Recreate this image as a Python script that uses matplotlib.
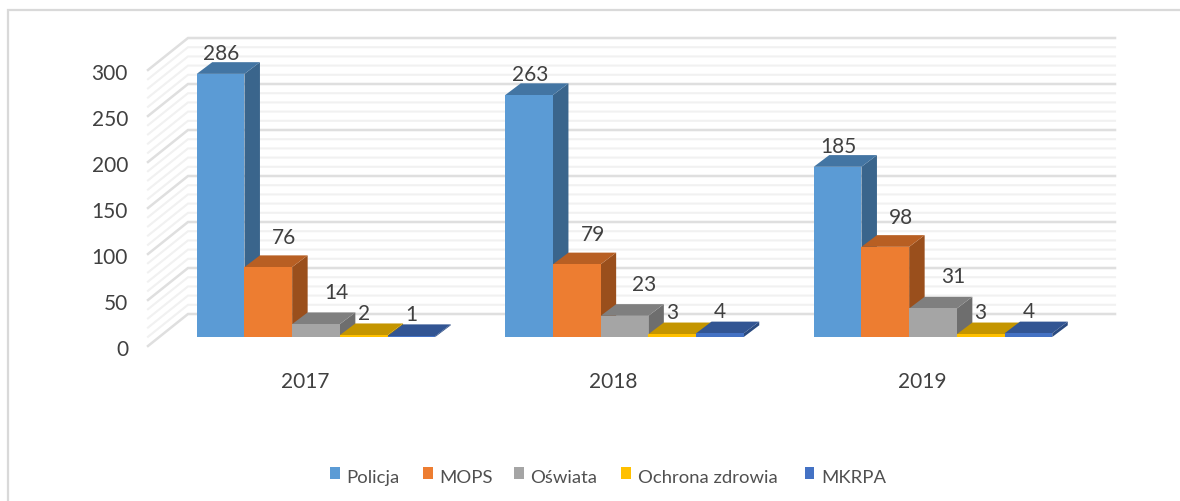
import matplotlib
matplotlib.use("Agg")
import matplotlib.pyplot as plt
from matplotlib.patches import Polygon, Rectangle

years = ["2017", "2018", "2019"]
series = ["Policja", "MOPS", "Oświata", "Ochrona zdrowia", "MKRPA"]
policja = [286, 263, 185]
mops = [76, 79, 98]
oswiata = [14, 23, 31]
ochrona = [2, 3, 3]
mkrpa = [1, 4, 4]
yticks = [0, 50, 100, 150, 200, 250, 300]

front = ["#5B9BD5", "#ED7D31", "#A5A5A5", "#FFC000", "#4472C4"]
top = ["#4375A3", "#B85F23", "#7F7F7F", "#C49500", "#325593"]
side = ["#3A658C", "#9A4F1C", "#6E6E6E", "#A67F00", "#2A4A80"]

plt.rcParams["font.family"] = ["Lato", "DejaVu Sans"]

fig = plt.figure(figsize=(11.8, 5.02), dpi=100)
ax = fig.add_axes([0, 0, 1, 1])

# one group = 308.5 px, one unit of value = 0.92 px
PX_X = 308.5
PX_Y = 0.92
BASE = 338
ax.set_xlim(-316 / PX_X, (1180 - 316) / PX_X)
ax.set_ylim(-(502 - BASE) / PX_Y, BASE / PX_Y)
ax.axis("off")


def dx(px):
    return px / PX_X


def dy(px):
    return px / PX_Y


# chart border: only top and left are in the crop
ax.plot([dx(8 - 316), dx(8 - 316), dx(1180 - 316)],
        [dy(BASE - 502), dy(BASE - 11), dy(BASE - 11)],
        color="#d9d9d9", lw=1.6, solid_joinstyle="miter", zorder=1)

# back wall and side wall lines
wall_x0, wall_x1, wall_x2 = dx(148 - 316), dx(188 - 316), dx(1115 - 316)
base0, base1 = dy(BASE - 347), dy(BASE - 315)
for v in range(0, 301, 10):
    major = v % 50 == 0
    col = "#dfdfdf" if major else "#f1f1f1"
    lw = 1.8 if major else 1.5
    ax.plot([wall_x0, wall_x1, wall_x2], [base0 + v, base1 + v, base1 + v],
            color=col, lw=lw, zorder=1, solid_joinstyle="miter")

for v in yticks:
    ax.text(dx(128 - 316), base0 + v - dy(3), str(v), ha="right", va="center",
            fontsize=15, color="#404040")

# bars
values = [policja, mops, oswiata, ochrona, mkrpa]
bar_w = 47.7 / PX_X
depth_x, depth_y = dx(15.5), dy(11.7)
label_dx = [1, 16, 20, 0, 0]
label_dy = [21, 30, 32, 22, 22]

for g, year in enumerate(years):
    ax.text(g - dx(11), dy(BASE - 382), year, ha="center", va="center",
            fontsize=15, color="#404040")
    for i, vals in enumerate(values):
        x0 = g + (i - 2.5) * bar_w
        x1 = x0 + bar_w
        v = vals[g]
        z = 3 + g * 10 + i
        ax.add_patch(Polygon([(x1, 0), (x1 + depth_x, depth_y),
                              (x1 + depth_x, v + depth_y), (x1, v)],
                             fc=side[i], ec="none", zorder=z))
        ax.add_patch(Polygon([(x0, v), (x1, v), (x1 + depth_x, v + depth_y),
                              (x0 + depth_x, v + depth_y)],
                             fc=top[i], ec="none", zorder=z))
        ax.add_patch(Rectangle((x0, 0), bar_w, v, fc=front[i], ec="none", zorder=z))
        ax.text((x0 + x1) / 2 + dx(label_dx[i]), v + dy(label_dy[i]), str(v),
                ha="center", va="center", fontsize=15, color="#404040", zorder=60)

# legend
marker_x = [330, 423, 514, 621, 805]
for name, mx, col in zip(series, marker_x, front):
    ax.add_patch(Rectangle((dx(mx - 316), dy(BASE - 480)), dx(9.5), dy(12),
                           fc=col, ec="none"))
    ax.text(dx(mx + 16.5 - 316), dy(BASE - 478), name, ha="left", va="center",
            fontsize=13.3, color="#505050")

fig.savefig("out.png", dpi=100, facecolor="white")
